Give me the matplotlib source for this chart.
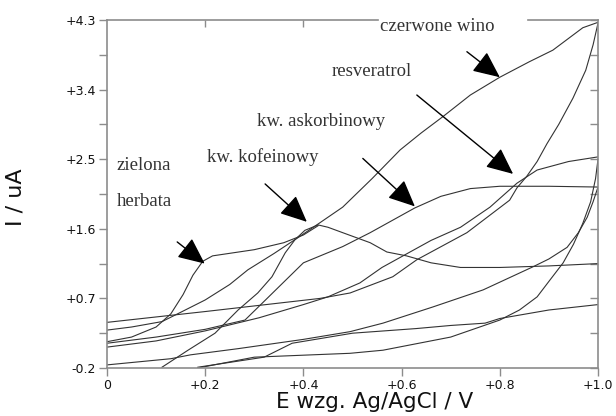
import numpy as np
import matplotlib.pyplot as plt
from matplotlib.ticker import FixedLocator

# cyclic voltammograms, E in V, I in uA
wine_fwd_E = [0.0, 0.05, 0.112, 0.15, 0.2, 0.25, 0.287, 0.34, 0.39, 0.434, 0.48, 0.54, 0.597, 0.64, 0.684, 0.74, 0.80, 0.86, 0.908, 0.969, 1.0]
wine_fwd_I = [0.29, 0.33, 0.40, 0.52, 0.68, 0.88, 1.07, 1.28, 1.49, 1.68, 1.88, 2.25, 2.62, 2.84, 3.05, 3.33, 3.56, 3.76, 3.91, 4.20, 4.27]
wine_rev_E = [1.0, 0.99, 0.975, 0.949, 0.92, 0.896, 0.876, 0.855, 0.835, 0.82, 0.733, 0.631, 0.582, 0.495, 0.434, 0.2, 0.0]
wine_rev_I = [4.26, 3.98, 3.65, 3.29, 2.95, 2.70, 2.47, 2.28, 2.13, 1.97, 1.55, 1.20, 0.98, 0.77, 0.70, 0.53, 0.39]

res_fwd_E = [0.0, 0.1, 0.2, 0.31, 0.40, 0.45, 0.515, 0.56, 0.66, 0.72, 0.78, 0.835, 0.876, 0.94, 1.0]
res_fwd_I = [0.07, 0.15, 0.28, 0.45, 0.62, 0.72, 0.90, 1.10, 1.45, 1.62, 1.88, 2.19, 2.36, 2.47, 2.53]
res_rev_E = [1.0, 0.995, 0.985, 0.969, 0.95, 0.929, 0.9, 0.876, 0.84, 0.80, 0.70, 0.562, 0.495, 0.30, 0.185]
res_rev_I = [2.50, 2.25, 1.95, 1.67, 1.40, 1.16, 0.92, 0.72, 0.55, 0.42, 0.20, 0.03, -0.01, -0.06, -0.20]

asc_fwd_E = [0.0, 0.1, 0.2, 0.281, 0.31, 0.40, 0.48, 0.536, 0.627, 0.68, 0.74, 0.80, 0.90, 1.0]
asc_fwd_I = [0.12, 0.2, 0.3, 0.42, 0.60, 1.16, 1.37, 1.55, 1.87, 2.02, 2.12, 2.15, 2.15, 2.14]
asc_rev_E = [1.0, 0.99, 0.978, 0.96, 0.937, 0.9, 0.868, 0.766, 0.664, 0.562, 0.495, 0.40, 0.267, 0.17, 0.13, 0.0]
asc_rev_I = [2.14, 1.95, 1.75, 1.55, 1.36, 1.21, 1.11, 0.81, 0.59, 0.38, 0.27, 0.17, 0.05, -0.03, -0.08, -0.16]

kof_fwd_E = [0.112, 0.165, 0.22, 0.267, 0.307, 0.336, 0.363, 0.383, 0.403, 0.43, 0.45, 0.48, 0.536, 0.57, 0.61, 0.66, 0.72, 0.80, 0.90, 1.0]
kof_fwd_I = [-0.19, 0.03, 0.25, 0.55, 0.77, 0.98, 1.29, 1.46, 1.58, 1.65, 1.62, 1.55, 1.42, 1.30, 1.25, 1.16, 1.10, 1.10, 1.12, 1.15]

tea_fwd_E = [0.0, 0.05, 0.1, 0.13, 0.155, 0.175, 0.195, 0.215, 0.30, 0.36, 0.40, 0.43]
tea_fwd_I = [0.14, 0.2, 0.33, 0.5, 0.75, 1.0, 1.18, 1.25, 1.33, 1.42, 1.52, 1.64]
tea_rev_E = [1.0, 0.90, 0.80, 0.77, 0.70, 0.63, 0.50, 0.377, 0.32, 0.185]
tea_rev_I = [0.62, 0.55, 0.44, 0.38, 0.35, 0.31, 0.25, 0.12, -0.06, -0.19]

labels = ["czerwone wino", "resveratrol", "kw. askorbinowy", "kw. kofeinowy", "zielona", "herbata"]
label_x = [0.556, 0.458, 0.305, 0.204, 0.02, 0.02]
label_y = [4.21, 3.63, 2.99, 2.53, 2.42, 1.95]
# arrow (tail E, tail I, tip E, tip I)
arrows = [
    (0.733, 3.89, 0.80, 3.56),
    (0.631, 3.33, 0.827, 2.31),
    (0.521, 2.51, 0.627, 1.89),
    (0.322, 2.18, 0.407, 1.69),
    (0.143, 1.43, 0.199, 1.15),
]

fig = plt.figure(figsize=(6.16, 4.16), dpi=100)
ax = fig.add_axes([0.1737, 0.1154, 0.7971, 0.8365])

curves = [(wine_fwd_E, wine_fwd_I), (wine_rev_E, wine_rev_I),
          (res_fwd_E, res_fwd_I), (res_rev_E, res_rev_I),
          (asc_fwd_E, asc_fwd_I), (asc_rev_E, asc_rev_I),
          (kof_fwd_E, kof_fwd_I),
          (tea_fwd_E, tea_fwd_I), (tea_rev_E, tea_rev_I)]
for E, I in curves:
    ax.plot(E, I, color="#333333", lw=0.8)

ax.set_xlim(0, 1.0)
ax.set_ylim(-0.2, 4.3)

grey = "#8c8c8c"
for s in ["left", "bottom", "right"]:
    ax.spines[s].set_color(grey)
    ax.spines[s].set_linewidth(1.2)
ax.spines["top"].set_visible(False)
# top frame is broken where the wine label sits
ax.plot([0, 0.552], [1, 1], transform=ax.transAxes, color=grey, lw=1.2, clip_on=False)
ax.plot([0.857, 1], [1, 1], transform=ax.transAxes, color=grey, lw=1.2, clip_on=False)

yt = [-0.2, 0.7, 1.6, 2.5, 3.4, 4.3]
ym = [0.25, 1.15, 2.05, 2.95, 3.85]
ax.yaxis.set_major_locator(FixedLocator(yt))
ax.yaxis.set_minor_locator(FixedLocator(ym))
ax.set_yticklabels(["%+.1f" % v for v in yt])
xt = [0, 0.2, 0.4, 0.6, 0.8, 1.0]
ax.set_xticks(xt)
ax.set_xticklabels(["0"] + ["+%.1f" % v for v in xt[1:]])
ax.tick_params(axis="both", which="both", color=grey, width=1.0, length=6,
               labelsize=9, labelcolor="#111111", pad=2)

sec_r = ax.secondary_yaxis("right")
sec_r.set_yticks(yt)
sec_r.yaxis.set_minor_locator(FixedLocator(ym))
sec_r.tick_params(which="both", direction="in", length=6, color=grey, width=1.0, labelright=False)
sec_r.spines["right"].set_visible(False)

sec_t = ax.secondary_xaxis("top")
sec_t.set_xticks([0.2, 0.4])
sec_t.tick_params(direction="in", length=5, color=grey, width=1.0, labeltop=False)
sec_t.spines["top"].set_visible(False)

ax.set_xlabel("E wzg. Ag/AgCl / V", fontsize=15.5, color="#111111")
ax.xaxis.set_label_coords(0.546, -0.07)
ax.set_ylabel("I / uA", fontsize=16, color="#111111")
ax.yaxis.set_label_coords(-0.165, 0.49)

for t, x, y in zip(labels, label_x, label_y):
    ax.text(x, y, t, family="Liberation Serif", fontsize=13.5, color="#333333", va="center", ha="left")

for x0, y0, x1, y1 in arrows:
    ax.annotate("", xy=(x1, y1), xytext=(x0, y0),
                arrowprops=dict(arrowstyle="-|>,head_length=1.1,head_width=0.5",
                                color="black", lw=1.0, mutation_scale=15, shrinkA=0, shrinkB=0))

fig.savefig("out.png", dpi=100)
